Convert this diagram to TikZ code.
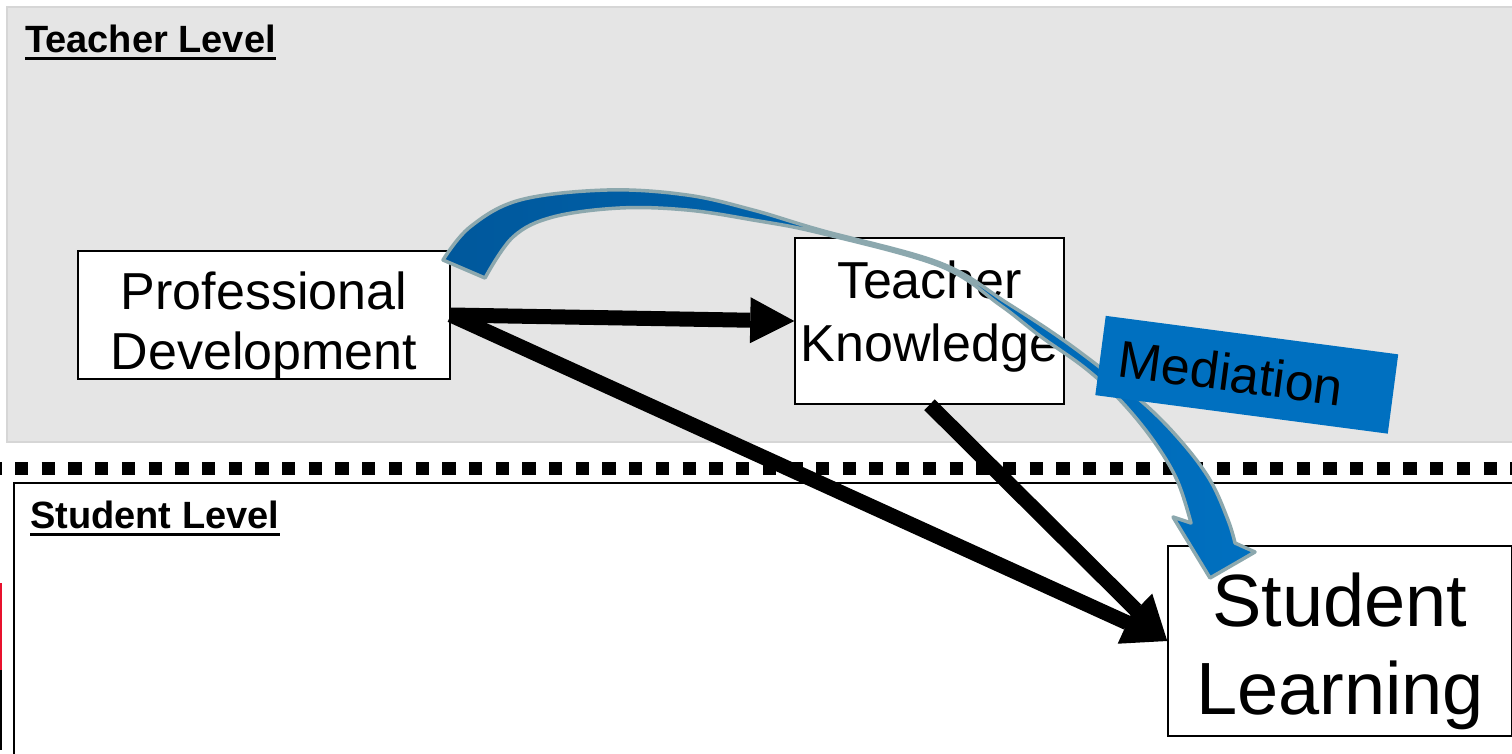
\documentclass[tikz,border=0pt]{standalone}
\usepackage{fontspec}
\setmainfont{Liberation Sans}
\usetikzlibrary{arrows.meta}
\definecolor{panelgray}{HTML}{E5E5E5}
\definecolor{paneledge}{HTML}{D6D6D6}
\definecolor{medblue}{HTML}{0070C0}
\definecolor{deepblue}{HTML}{00589C}
\definecolor{rimgray}{HTML}{8CA8AE}
\definecolor{edgered}{HTML}{E8112D}

\begin{document}
\begin{tikzpicture}[x=1pt,y=-1pt,
  box/.style={draw=black, line width=1.5pt, fill=white, inner sep=0pt},
  boxtext/.style={inner sep=0pt, align=center},
  levellabel/.style={anchor=base west, inner sep=0pt, font=\fontsize{38}{41}\selectfont\bfseries},
  link/.style={line width=15pt, -{Triangle[length=44pt,width=46pt,line width=0pt]}},
]
\useasboundingbox (0,0) rectangle (1512,754);
\clip (0,0) rectangle (1512,754);
\fill[white] (0,0) rectangle (1512,754);

% teacher-level panel
\filldraw[fill=panelgray, draw=paneledge, line width=1.5pt] (7,7) rectangle (1530,442);
% separator between the two levels
\draw[line width=13pt, dash pattern=on 13.35pt off 13.35pt] (-11.7,468.5) -- (1530,468.5);
% student-level panel
\filldraw[fill=white, draw=black, line width=2pt] (14,483) rectangle (1530,770);
% marks at the left edge
\fill[edgered] (0,583) rectangle (1.5,670);
\fill[black] (0,670) rectangle (1.5,750);

% level titles, underlined
\node[levellabel] (tl) at (25,53) {Teacher Level};
\draw[line width=3pt] ([yshift=-5.5pt]tl.base west) -- ([yshift=-5.5pt]tl.base east);
\node[levellabel] (sll) at (30,528) {Student Level};
\draw[line width=3pt] ([yshift=-6.5pt]sll.base west) -- ([yshift=-6.5pt]sll.base east);

% constructs
\node[box, minimum width=372pt, minimum height=128pt] (pd) at (264,315) {};
\node[boxtext, font=\fontsize{52}{60}\selectfont] (pdtext) at ([yshift=-11pt]pd.center) {Professional\\Development};
\node[box, minimum width=269pt, minimum height=166pt] (tk) at (929.5,321) {};
\node[boxtext, font=\fontsize{52}{63}\selectfont] (tktext) at ([yshift=4pt]tk.center) {Teacher\\Knowledge};
\node[box, minimum width=344pt, minimum height=190pt] (sl) at (1340,641) {};
\node[boxtext, font=\fontsize{74}{88}\selectfont] (sltext) at ([yshift=-10pt]sl.center) {Student\\Learning};

% direct effects
\draw[link] (pd.east) -- (tk.west);
\draw[link] (pd.east) -- (sl.west);
\draw[link] (tk.south) -- (sl.west);

% curved mediation arrow
\path[left color=deepblue, right color=medblue, draw=rimgray, line width=3.5pt, line join=round]
  plot[smooth, tension=0.6] coordinates {(443,260) (470,227) (520,200) (607,190) (687,195) (753,210) (820,230) (940,263) (1007,303) (1073,347) (1140,400) (1180,440) (1210,480) (1228,520) (1235,543)}
  -- (1255,552) -- (1210,578) -- (1173,517) -- (1191,523)
  -- plot[smooth, tension=0.6] coordinates {(1191,523) (1177,480) (1153,440) (1120,400) (1085,368) (1040,336) (1000,305) (940,266) (820,233) (753,220) (687,210) (620,208) (553,217) (513,237) (485,278)}
  -- cycle;

% mediation label
\node[fill=medblue, rotate=-7.5, minimum height=80pt, inner xsep=19pt, inner ysep=0pt, text width=257pt, align=left, font=\fontsize{52}{60}\selectfont] (med) at (1246.75,374.75) {\raisebox{-4pt}{Mediation}};
\end{tikzpicture}
\end{document}
